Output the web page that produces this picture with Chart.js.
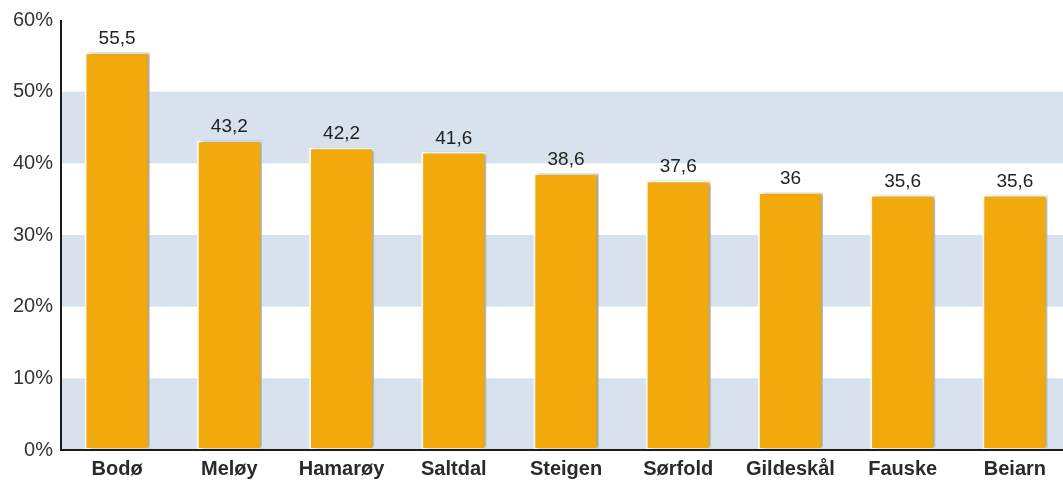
<!DOCTYPE html>
<html lang="no">
<head>
  <meta charset="UTF-8">
  <title>Kommuner</title>
  <script src="https://cdn.jsdelivr.net/npm/chart.js"></script>
  <style>
    body { margin: 0; background: #ffffff; overflow: hidden; }
    #wrap { width: 1071px; height: 483px; }
  </style>
</head>
<body>
  <div id="wrap"><canvas id="chart"></canvas></div>

<script>
  // data
  const kommuner = ["Bodø", "Meløy", "Hamarøy", "Saltdal", "Steigen", "Sørfold", "Gildeskål", "Fauske", "Beiarn"];
  const andel = [55.5, 43.2, 42.2, 41.6, 38.6, 37.6, 36, 35.6, 35.6];
  const yTicks = [0, 10, 20, 30, 40, 50, 60];

  const barColor = '#f1a90c';
  const bandColor = '#d7e2ee';

  // light blue bands: 0-10, 20-30, 40-50
  const bands = {
    id: 'bands',
    beforeDatasetsDraw(chart) {
      const { ctx, chartArea, scales } = chart;
      const y = scales.y;
      ctx.save();
      ctx.fillStyle = bandColor;
      for (let i = 0; i < yTicks.length - 1; i += 2) {
        const top = y.getPixelForValue(yTicks[i + 1]);
        const bot = y.getPixelForValue(yTicks[i]);
        ctx.fillRect(chartArea.left, top, chartArea.right - chartArea.left, bot - top);
      }
      ctx.restore();
    }
  };

  // soft shadow on the bars
  const shadow = {
    id: 'shadow',
    beforeDatasetsDraw(chart) {
      const ctx = chart.ctx;
      ctx.save();
      ctx.shadowColor = 'rgba(0,0,0,0.35)';
      ctx.shadowOffsetX = 3;
      ctx.shadowOffsetY = 0;
      ctx.shadowBlur = 3;
    },
    afterDatasetsDraw(chart) {
      chart.ctx.restore();
    }
  };

  // value labels above the bars
  const valueLabels = {
    id: 'valueLabels',
    afterDatasetsDraw(chart) {
      const ctx = chart.ctx;
      const meta = chart.getDatasetMeta(0);
      ctx.save();
      ctx.font = '19px "Liberation Sans", Arial, sans-serif';
      ctx.fillStyle = '#222222';
      ctx.textAlign = 'center';
      ctx.textBaseline = 'bottom';
      meta.data.forEach((bar, i) => {
        const txt = String(andel[i]).replace('.', ',');
        ctx.fillText(txt, bar.x, bar.y - 4);
      });
      ctx.restore();
    }
  };

  // axis lines
  const axisLines = {
    id: 'axisLines',
    afterDraw(chart) {
      const { ctx, chartArea } = chart;
      ctx.save();
      ctx.strokeStyle = '#1a1a1a';
      ctx.lineWidth = 2;
      ctx.beginPath();
      ctx.moveTo(chartArea.left, chartArea.top);
      ctx.lineTo(chartArea.left, chartArea.bottom);
      ctx.lineTo(chartArea.right, chartArea.bottom);
      ctx.stroke();
      ctx.restore();
    }
  };

  new Chart(document.getElementById('chart'), {
    type: 'bar',
    data: {
      labels: kommuner,
      datasets: [{
        data: andel,
        backgroundColor: barColor,
        borderColor: '#fff9e6',
        borderWidth: 2,
        borderSkipped: false,
        categoryPercentage: 1.0,
        barPercentage: 0.58
      }]
    },
    options: {
      responsive: true,
      maintainAspectRatio: false,
      animation: false,
      layout: { padding: { top: 19, right: 0, left: 0, bottom: 0 } },
      plugins: {
        legend: { display: false },
        tooltip: { enabled: false }
      },
      scales: {
        x: {
          grid: { display: false, drawTicks: false, tickLength: 0 },
          border: { display: false },
          ticks: {
            color: '#2a2a2a',
            padding: 7,
            font: { family: '"Liberation Sans", Arial, sans-serif', size: 20, weight: 'bold' }
          },
          afterFit(scale) { scale.height = 33; }
        },
        y: {
          min: 0,
          max: 60,
          grid: { display: false, drawTicks: false, tickLength: 0 },
          border: { display: false },
          ticks: {
            stepSize: 10,
            color: '#333333',
            padding: 8,
            font: { family: '"Liberation Sans", Arial, sans-serif', size: 20 },
            callback: v => v + '%'
          },
          afterFit(scale) { scale.width = 61; }
        }
      }
    },
    plugins: [bands, shadow, valueLabels, axisLines]
  });
</script>
</body>
</html>
